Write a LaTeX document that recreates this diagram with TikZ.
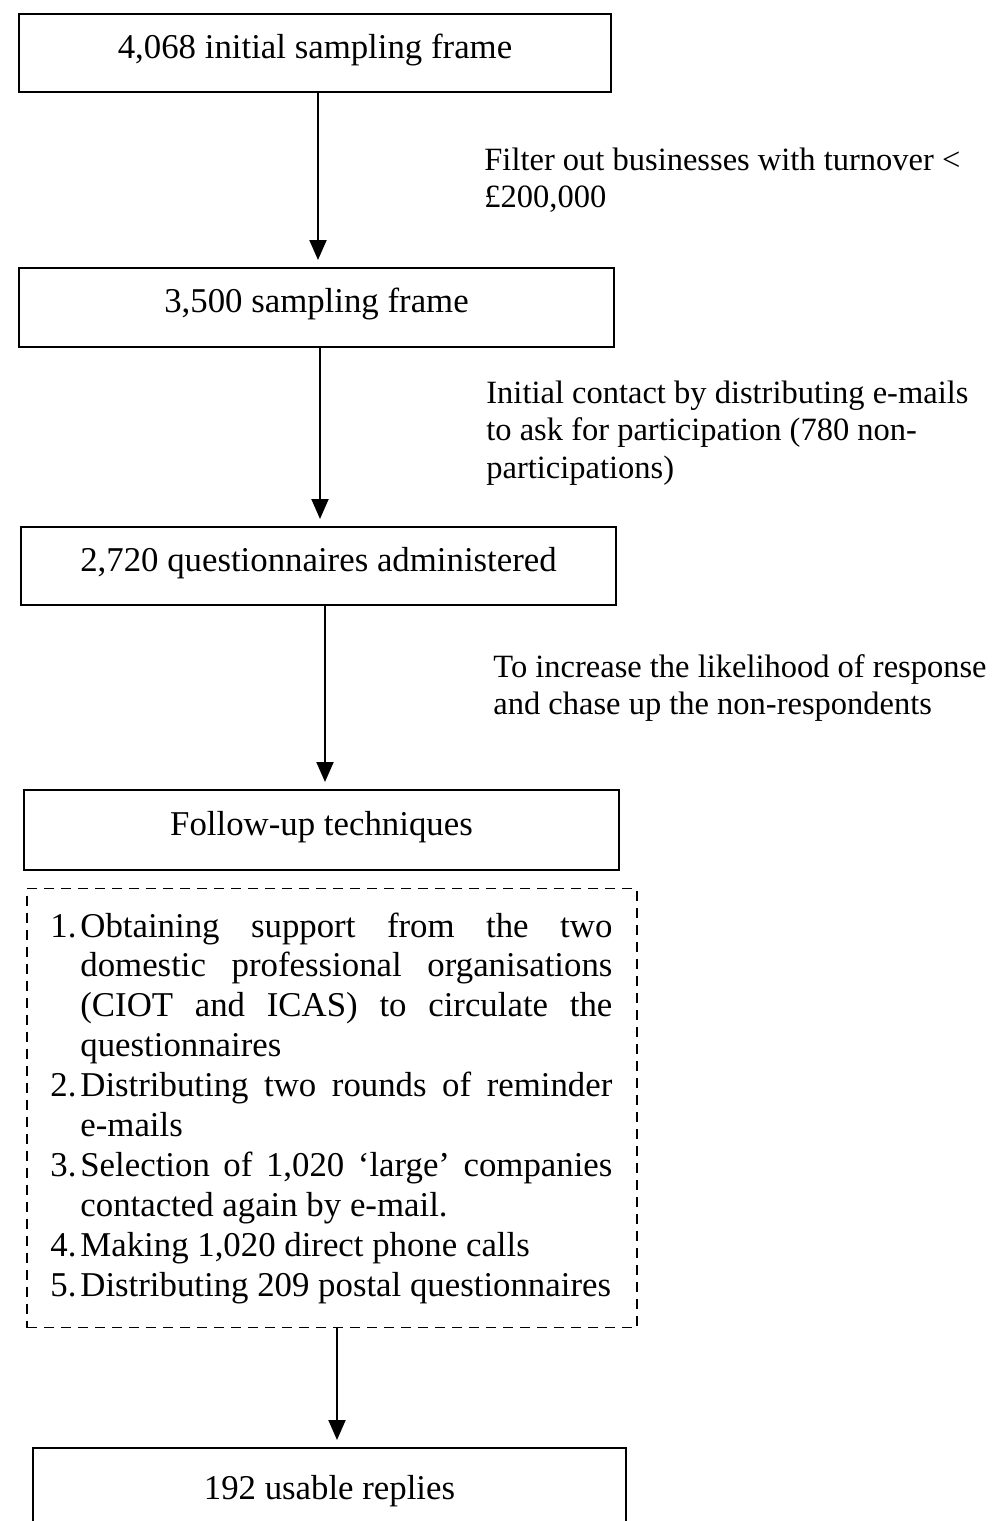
\documentclass[tikz,border=0pt]{standalone}
\usepackage{fontspec}
\setmainfont{Liberation Serif}
\usetikzlibrary{arrows.meta}
\begin{document}
\begin{tikzpicture}[x=0.5pt,y=-0.5pt,
  stepbox/.style={draw, line width=1pt, rectangle, inner sep=0pt,
    font=\fontsize{17.4}{20}\selectfont, text height=12pt, text depth=7pt},
  dashbox/.style={draw, line width=0.8pt, dash pattern=on 5pt off 3.5pt,
    rectangle, inner sep=0pt},
  note/.style={anchor=base west, inner sep=0pt,
    font=\fontsize{16.25}{18.75}\selectfont},
  listtext/.style={anchor=base west, inner sep=0pt,
    font=\fontsize{17.4}{19.95}\selectfont},
  arr/.style={-{Triangle[length=10pt,width=8.5pt]}, line width=1pt,
    shorten >=3.5pt}]
\useasboundingbox (0,0) rectangle (1002,1521);

% main stages of the survey
\node[stepbox, minimum width=296pt, minimum height=39pt] (b1) at (315,53)
  {4,068 initial sampling frame};
\node[stepbox, minimum width=297.5pt, minimum height=39.5pt] (b2) at (316.5,307.5)
  {3,500 sampling frame};
\node[stepbox, minimum width=297.5pt, minimum height=39pt] (b3) at (318.5,566)
  {2,720 questionnaires administered};
\node[stepbox, minimum width=297.5pt, minimum height=40pt] (b4) at (321.5,830)
  {Follow-up techniques};
\node[dashbox, minimum width=305pt, minimum height=219.5pt] (b5) at (332,1108) {};
\node[stepbox, minimum width=296.5pt, minimum height=46pt] (b6) at (329.5,1494)
  {192 usable replies};

% list of follow-up techniques
\node[listtext] (techniques) at (50,937) {\parbox[t]{281pt}{%
\makebox[15pt][l]{1.}\makebox[266pt][s]{Obtaining support from the two}\\
\hspace*{15pt}\makebox[266pt][s]{domestic professional organisations}\\
\hspace*{15pt}\makebox[266pt][s]{(CIOT and ICAS) to circulate the}\\
\hspace*{15pt}questionnaires\\
\makebox[15pt][l]{2.}\makebox[266pt][s]{Distributing two rounds of reminder}\\
\hspace*{15pt}e-mails\\
\makebox[15pt][l]{3.}\makebox[266pt][s]{Selection of 1,020 ‘large’ companies}\\
\hspace*{15pt}contacted again by e-mail.\\
\makebox[15pt][l]{4.}Making 1,020 direct phone calls\\
\makebox[15pt][l]{5.}Distributing 209 postal questionnaires}};

% side notes
\node[note] (n1) at (484,170) {\parbox[t]{260pt}{\raggedright
  Filter out businesses with turnover <\\ £200,000}};
\node[note] (n2) at (486,403) {\parbox[t]{260pt}{\raggedright
  Initial contact by distributing e-mails\\ to ask for participation (780 non-\\ participations)}};
\node[note] (n3) at (493,677) {\parbox[t]{260pt}{\raggedright
  To increase the likelihood of response\\ and chase up the non-respondents}};

% connectors
\draw[arr] ([xshift=1.5pt]b1.south) -- ([xshift=1.5pt]b1.south |- b2.north);
\draw[arr] ([xshift=1.75pt]b2.south) -- ([xshift=1.75pt]b2.south |- b3.north);
\draw[arr] ([xshift=3.25pt]b3.south) -- ([xshift=3.25pt]b3.south |- b4.north);
\draw[arr] ([xshift=2.5pt]b5.south) -- ([xshift=2.5pt]b5.south |- b6.north);
\end{tikzpicture}
\end{document}
